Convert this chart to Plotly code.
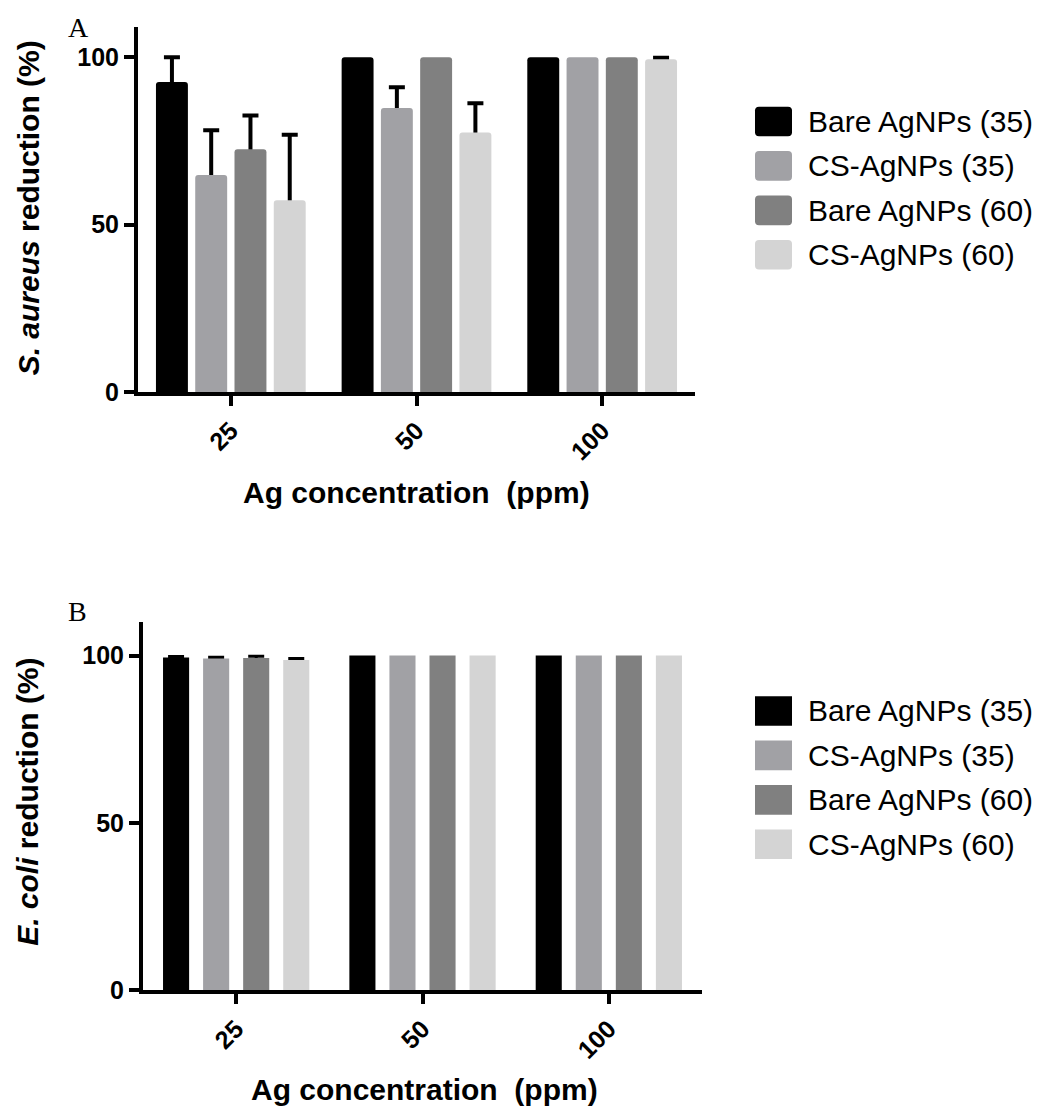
import numpy as np
import plotly.graph_objects as go

W, H = 1040, 1117

categories = ["25", "50", "100"]
series_names = ["Bare AgNPs (35)", "CS-AgNPs (35)", "Bare AgNPs (60)", "CS-AgNPs (60)"]
series_colors = ["#000000", "#A1A1A5", "#808080", "#D4D4D4"]

# Panel A: S. aureus reduction (%)
a_bare35 = [92.6, 100, 100]
a_cs35 = [64.8, 84.8, 100]
a_bare60 = [72.5, 100, 100]
a_cs60 = [57.3, 77.5, 99.4]
a_bare35_err = [7.4, None, None]
a_cs35_err = [13.4, 6.2, None]
a_bare60_err = [10.1, None, None]
a_cs60_err = [19.5, 8.7, 0.4]

# Panel B: E. coli reduction (%)
b_bare35 = [99.4, 100, 100]
b_cs35 = [99.1, 100, 100]
b_bare60 = [99.3, 100, 100]
b_cs60 = [98.7, 100, 100]
b_bare35_err = [0.3, None, None]
b_cs35_err = [0.4, None, None]
b_bare60_err = [0.5, None, None]
b_cs60_err = [0.4, None, None]

A_vals = [a_bare35, a_cs35, a_bare60, a_cs60]
A_errs = [a_bare35_err, a_cs35_err, a_bare60_err, a_cs60_err]
B_vals = [b_bare35, b_cs35, b_bare60, b_cs60]
B_errs = [b_bare35_err, b_cs35_err, b_bare60_err, b_cs60_err]


def px_x(p):
    return p / W


def px_y(p):
    return 1 - p / H


fig = go.Figure()

FONT = "Liberation Sans, Arial, sans-serif"

# bar geometry (category units)
A_width, A_step = 0.172, 0.2115
B_width, B_step = 0.140, 0.2150


def as_err(errs):
    # missing error -> NaN so plotly.js does not draw a cap
    return np.array([np.nan if e is None else e for e in errs], dtype=float)


def add_panel(vals, errs, width, step, xa, ya, radius, thick):
    # error bars first (on transparent bars); the coloured bars drawn afterwards hide the lower half
    for i in range(4):
        fig.add_trace(go.Bar(
            x=categories, y=vals[i], name=series_names[i],
            marker=dict(color="rgba(0,0,0,0)", line=dict(width=0)),
            width=width, offset=(i - 1.5) * step - width / 2,
            error_y=dict(type="data", array=as_err(errs[i]), symmetric=True,
                         color="black", thickness=thick, width=8, visible=True),
            xaxis=xa, yaxis=ya, showlegend=False, hoverinfo="skip",
        ))
    for i in range(4):
        fig.add_trace(go.Bar(
            x=categories, y=vals[i], name=series_names[i],
            marker=dict(color=series_colors[i], line=dict(width=0), cornerradius=radius),
            width=width, offset=(i - 1.5) * step - width / 2,
            xaxis=xa, yaxis=ya, showlegend=False,
        ))


add_panel(A_vals, A_errs, A_width, A_step, "x", "y", 3, 4)
add_panel(B_vals, B_errs, B_width, B_step, "x2", "y2", 0, 3)

tickfont = dict(family=FONT, size=25, color="black", weight="bold")

common_x = dict(type="category", range=[-0.5, 2.5], showline=True, linewidth=4, linecolor="black",
                ticks="outside", ticklen=10, tickwidth=4, tickcolor="black", tickangle=-45,
                tickfont=tickfont, showgrid=False, zeroline=False, fixedrange=True)
common_y = dict(showline=True, linewidth=4, linecolor="black", ticks="outside", ticklen=10,
                tickwidth=4, tickcolor="black", tickvals=[0, 50, 100], tickfont=tickfont,
                showgrid=False, zeroline=False, fixedrange=True)

fig.update_layout(
    width=W, height=H,
    margin=dict(l=0, r=0, t=0, b=0),
    paper_bgcolor="white", plot_bgcolor="white",
    barmode="group",
    showlegend=False,
    xaxis=dict(domain=[px_x(138), px_x(695)], anchor="y", **common_x),
    yaxis=dict(domain=[px_y(397), px_y(27)], anchor="x", range=[0, 109.1], **common_y),
    xaxis2=dict(domain=[px_x(143), px_x(702)], anchor="y2", **common_x),
    yaxis2=dict(domain=[px_y(1003), px_y(630)], anchor="x2", range=[0, 110], **common_y),
)

annotations = []
shapes = []

# axis titles
annotations.append(dict(x=px_x(28), y=px_y(211), xref="paper", yref="paper",
                        text="<i>S. aureus</i> reduction (%)", textangle=-90, showarrow=False,
                        xanchor="center", yanchor="middle",
                        font=dict(family=FONT, size=30, color="black", weight="bold")))
annotations.append(dict(x=px_x(28), y=px_y(812), xref="paper", yref="paper",
                        text="<i>E. coli</i> reduction (%)", textangle=-90, showarrow=False,
                        xanchor="center", yanchor="middle",
                        font=dict(family=FONT, size=30, color="black", weight="bold")))
annotations.append(dict(x=px_x(416), y=px_y(499), xref="paper", yref="paper",
                        text="Ag concentration  (ppm)", showarrow=False,
                        xanchor="center", yanchor="middle",
                        font=dict(family=FONT, size=30, color="black", weight="bold")))
annotations.append(dict(x=px_x(424), y=px_y(1103), xref="paper", yref="paper",
                        text="Ag concentration  (ppm)", showarrow=False,
                        xanchor="center", yanchor="middle",
                        font=dict(family=FONT, size=30, color="black", weight="bold")))

# panel letters
annotations.append(dict(x=px_x(66), y=px_y(28), xref="paper", yref="paper", text="A",
                        showarrow=False, xanchor="left", yanchor="middle",
                        font=dict(family="Liberation Serif, Times New Roman, serif", size=28, color="black")))
annotations.append(dict(x=px_x(66), y=px_y(619), xref="paper", yref="paper", text="B",
                        showarrow=False, xanchor="left", yanchor="middle",
                        font=dict(family="Liberation Serif, Times New Roman, serif", size=28, color="black")))


def rrect(x0, y0, x1, y1, r):
    X = lambda p: f"{px_x(p):.5f}"
    Y = lambda p: f"{px_y(p):.5f}"
    return (f"M {X(x0 + r)},{Y(y0)} L {X(x1 - r)},{Y(y0)} Q {X(x1)},{Y(y0)} {X(x1)},{Y(y0 + r)} "
            f"L {X(x1)},{Y(y1 - r)} Q {X(x1)},{Y(y1)} {X(x1 - r)},{Y(y1)} "
            f"L {X(x0 + r)},{Y(y1)} Q {X(x0)},{Y(y1)} {X(x0)},{Y(y1 - r)} "
            f"L {X(x0)},{Y(y0 + r)} Q {X(x0)},{Y(y0)} {X(x0 + r)},{Y(y0)} Z")


def add_legend(first_row_y, rounded):
    for i, (name, col) in enumerate(zip(series_names, series_colors)):
        cy = first_row_y + 45 * i
        if rounded:
            shapes.append(dict(type="path", xref="paper", yref="paper",
                               path=rrect(755, cy - 15, 792, cy + 15, 4),
                               fillcolor=col, line=dict(width=0)))
        else:
            shapes.append(dict(type="rect", xref="paper", yref="paper",
                               x0=px_x(755), x1=px_x(792), y0=px_y(cy - 15), y1=px_y(cy + 15),
                               fillcolor=col, line=dict(width=0)))
        annotations.append(dict(x=px_x(806), y=px_y(cy), xref="paper", yref="paper", text=name,
                                showarrow=False, xanchor="left", yanchor="middle",
                                font=dict(family=FONT, size=30, color="black")))


add_legend(123, True)
add_legend(720, False)

fig.update_layout(annotations=annotations, shapes=shapes)

fig.write_html("out.html")
